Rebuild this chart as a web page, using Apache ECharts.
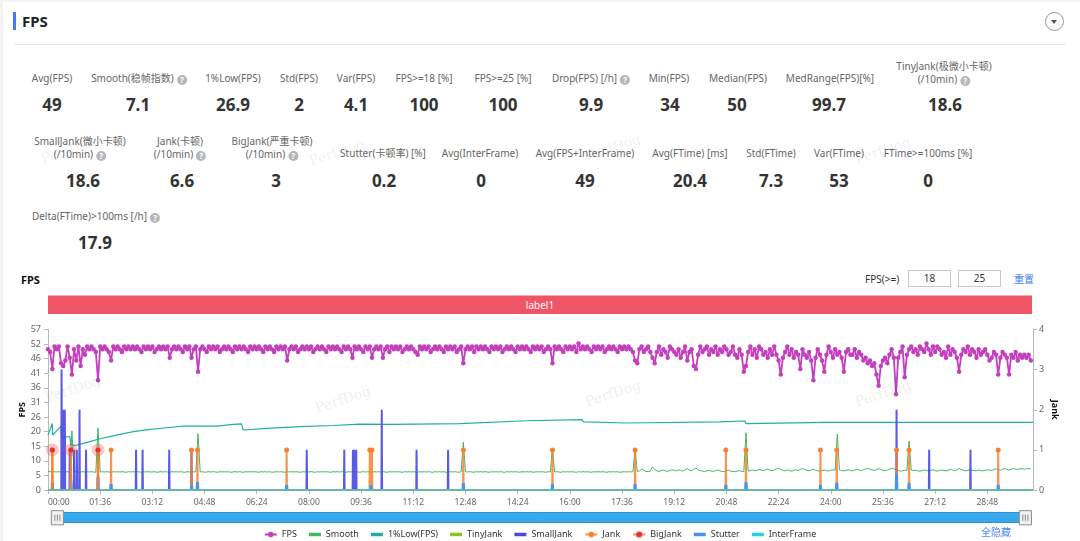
<!DOCTYPE html>
<html>
<head>
<meta charset="utf-8">
<script src="https://cdn.jsdelivr.net/npm/echarts@6/dist/echarts.min.js"></script>
<style>
html, body { margin: 0; padding: 0; }
body {
  width: 1080px; height: 541px; overflow: hidden; position: relative;
  background: #f2f3f5;
  font-family: "Noto Sans", "Noto Sans CJK SC", sans-serif;
}
.card { position: absolute; left: 3px; top: 2px; right: 0; bottom: 0; background: #fff; }
.abs { position: absolute; white-space: nowrap; }
.title-bar { left: 13px; top: 12px; width: 3px; height: 18px; background: #3f7cf6; }
.title { left: 22px; top: 10px; font-size: 15px; font-weight: bold; color: #222; line-height: 22px; }
.divider { left: 14px; top: 44px; width: 1052px; height: 1px; background: #e9e9ec; }
.drop { left: 1045px; top: 12px; width: 17px; height: 17px; border: 1px solid #9a9a9a; border-radius: 50%; }
.drop:after { content: ""; position: absolute; left: 5px; top: 7px; border-left: 3.5px solid transparent; border-right: 3.5px solid transparent; border-top: 4px solid #555; }
.st { position: absolute; transform: translateX(-50%); text-align: center; white-space: nowrap; }
.lb { font-size: 10px; color: #666; line-height: 13px; }
.val { font-size: 17px; font-weight: bold; color: #333; line-height: 20px; }
.q { display: inline-block; width: 10px; height: 10px; border-radius: 50%; background: #b3b6bb; color: #fff; font-size: 8px; line-height: 10px; text-align: center; font-weight: bold; margin-left: 3px; vertical-align: -1px; }
.wm { position: absolute; font-family: "DejaVu Serif", "Liberation Serif", serif; font-size: 14px; color: rgba(0,0,0,0.07); transform: rotate(-18deg); white-space: nowrap; pointer-events: none; z-index: 5; }
.ctitle { left: 21px; top: 272px; font-size: 11px; font-weight: bold; color: #111; line-height: 16px; }
.ftxt { left: 865px; top: 271px; font-size: 10px; color: #333; line-height: 16px; }
.inp { top: 270px; width: 41px; height: 15px; border: 1px solid #c8c8c8; font-size: 10px; color: #333; text-align: center; line-height: 15px; }
.reset { left: 1014px; top: 271px; font-size: 10px; color: #3d7df5; line-height: 16px; }
.scene { left: 48px; top: 295px; width: 984px; height: 19px; background: #ee5667; color: #fff; font-size: 10px; text-align: center; line-height: 19px; border-top: 1px solid #f6a9b1; box-sizing: border-box; }
.hideall { left: 981px; top: 525px; font-size: 10px; color: #4d86f5; line-height: 14px; z-index: 3; }
#chart { position: absolute; left: 0; top: 262px; width: 1080px; height: 279px; }
</style>
</head>
<body>
<div class="card"></div>
<div class="abs title-bar"></div>
<div class="abs title">FPS</div>
<div class="abs divider"></div>
<div class="abs drop"></div>

<!-- row 1 -->
<div class="st lb" style="left:52px;top:71.5px">Avg(FPS)</div>
<div class="st val" style="left:52px;top:95px">49</div>
<div class="st lb" style="left:139px;top:71.5px">Smooth(稳帧指数)<span class="q">?</span></div>
<div class="st val" style="left:138px;top:95px">7.1</div>
<div class="st lb" style="left:233px;top:71.5px">1%Low(FPS)</div>
<div class="st val" style="left:233px;top:95px">26.9</div>
<div class="st lb" style="left:299px;top:71.5px">Std(FPS)</div>
<div class="st val" style="left:299px;top:95px">2</div>
<div class="st lb" style="left:356px;top:71.5px">Var(FPS)</div>
<div class="st val" style="left:356px;top:95px">4.1</div>
<div class="st lb" style="left:424px;top:71.5px">FPS&gt;=18 [%]</div>
<div class="st val" style="left:424px;top:95px">100</div>
<div class="st lb" style="left:503px;top:71.5px">FPS&gt;=25 [%]</div>
<div class="st val" style="left:503px;top:95px">100</div>
<div class="st lb" style="left:591px;top:71.5px">Drop(FPS) [/h]<span class="q">?</span></div>
<div class="st val" style="left:591px;top:95px">9.9</div>
<div class="st lb" style="left:669px;top:71.5px">Min(FPS)</div>
<div class="st val" style="left:670px;top:95px">34</div>
<div class="st lb" style="left:738px;top:71.5px">Median(FPS)</div>
<div class="st val" style="left:737px;top:95px">50</div>
<div class="st lb" style="left:830px;top:71.5px">MedRange(FPS)[%]</div>
<div class="st val" style="left:829px;top:95px">99.7</div>
<div class="st lb" style="left:944px;top:59.5px">TinyJank(极微小卡顿)<br>(/10min)<span class="q">?</span></div>
<div class="st val" style="left:945px;top:95px">18.6</div>

<!-- row 2 -->
<div class="st lb" style="left:80px;top:134.5px">SmallJank(微小卡顿)<br>(/10min)<span class="q">?</span></div>
<div class="st val" style="left:83px;top:171px">18.6</div>
<div class="st lb" style="left:180px;top:134.5px">Jank(卡顿)<br>(/10min)<span class="q">?</span></div>
<div class="st val" style="left:182px;top:171px">6.6</div>
<div class="st lb" style="left:272px;top:134.5px">BigJank(严重卡顿)<br>(/10min)<span class="q">?</span></div>
<div class="st val" style="left:276px;top:171px">3</div>
<div class="st lb" style="left:383px;top:147px">Stutter(卡顿率) [%]</div>
<div class="st val" style="left:384px;top:171px">0.2</div>
<div class="st lb" style="left:480px;top:147px">Avg(InterFrame)</div>
<div class="st val" style="left:481px;top:171px">0</div>
<div class="st lb" style="left:585px;top:147px">Avg(FPS+InterFrame)</div>
<div class="st val" style="left:585px;top:171px">49</div>
<div class="st lb" style="left:690px;top:147px">Avg(FTime) [ms]</div>
<div class="st val" style="left:690px;top:171px">20.4</div>
<div class="st lb" style="left:771px;top:147px">Std(FTime)</div>
<div class="st val" style="left:771px;top:171px">7.3</div>
<div class="st lb" style="left:839px;top:147px">Var(FTime)</div>
<div class="st val" style="left:839px;top:171px">53</div>
<div class="st lb" style="left:928px;top:147px">FTime&gt;=100ms [%]</div>
<div class="st val" style="left:928px;top:171px">0</div>

<!-- row 3 -->
<div class="st lb" style="left:96px;top:209.5px">Delta(FTime)&gt;100ms [/h]<span class="q">?</span></div>
<div class="st val" style="left:95px;top:233px">17.9</div>

<!-- watermarks -->
<div class="wm" style="left:40px;top:142px">PerfDog</div>
<div class="wm" style="left:308px;top:144px">PerfDog</div>
<div class="wm" style="left:584px;top:139px">PerfDog</div>
<div class="wm" style="left:854px;top:142px">PerfDog</div>
<div class="wm" style="left:44px;top:381px">PerfDog</div>
<div class="wm" style="left:314px;top:391px">PerfDog</div>
<div class="wm" style="left:584px;top:385px">PerfDog</div>
<div class="wm" style="left:854px;top:385px">PerfDog</div>

<!-- chart header -->
<div class="abs ctitle">FPS</div>
<div class="abs ftxt">FPS(&gt;=)</div>
<div class="abs inp" style="left:908px">18</div>
<div class="abs inp" style="left:958px">25</div>
<div class="abs reset">重置</div>
<div class="abs scene">label1</div>
<div class="abs hideall">全隐藏</div>

<div id="chart"></div>

<script>
// left axis tick labels (FPS), right axis is Jank count
const leftTickLabels = ['0', '5', '10', '15', '20', '26', '31', '36', '41', '46', '52', '57'];
const leftMax = 57;
const rightMax = 4;
const timeEnd = 1812;   // seconds shown on the x axis
const tickStep = 96;    // 01:36

// FPS, one sample every 4 s
const fpsStep = 4;
const fpsValues = [
  50,49,43,51,50,51,45,44,46,51,47,41,50,46,51,44,50,48,51,50,
  51,50,49,39,51,50,51,50,49,46,51,50,51,50,49,51,50,51,50,51,
  50,51,50,49,51,50,51,50,51,49,50,51,50,51,50,51,47,50,51,50,
  51,50,49,51,50,51,47,50,51,42,50,51,50,49,51,50,51,50,51,49,
  50,51,50,51,50,49,51,50,51,50,51,50,49,51,50,51,50,51,50,49,
  51,50,51,50,49,51,50,51,50,51,46,50,51,50,51,49,50,51,50,51,
  50,51,49,50,51,50,51,50,49,51,50,51,50,51,50,49,51,50,51,50,
  47,51,50,51,50,49,51,50,51,47,50,51,50,51,47,50,51,49,51,50,
  51,50,51,49,50,51,50,51,50,49,48,51,50,51,50,51,49,50,51,50,
  51,50,49,51,50,51,50,51,49,50,51,45,50,51,50,51,49,51,50,51,
  50,51,50,49,51,50,51,50,51,49,50,51,50,51,50,49,51,50,51,50,
  51,50,49,51,50,51,50,51,49,50,51,50,45,51,50,51,50,49,51,50,
  51,50,51,49,52,50,51,50,51,50,49,51,50,51,50,51,49,50,51,50,
  51,50,49,51,50,51,50,51,50,49,
  46,45,50,51,49,50,51,49,47,45,49,51,48,50,49,47,51,50,49,48,
  50,47,49,51,46,49,50,44,43,48,51,49,50,51,48,50,49,51,48,50,
  49,51,50,48,49,51,48,47,50,48,42,44,49,51,48,50,47,51,50,48,
  49,47,50,48,51,48,46,41,47,49,51,48,50,47,49,48,43,50,48,47,
  49,46,39,47,50,48,46,42,48,51,49,47,50,48,49,47,42,49,50,48,
  48,50,47,49,48,46,47,45,46,44,45,41,37,44,46,47,45,48,50,47,
  34,47,49,51,40,48,50,51,49,50,48,51,50,49,52,50,48,51,49,51,
  50,48,49,47,51,48,50,49,47,42,48,50,49,51,48,50,49,47,50,48,
  49,50,48,46,47,49,48,41,47,49,48,47,41,48,47,49,46,48,47,48,
  47,48,46
];

// Smooth index, same 4 s sampling
const smoothValues = [
  6.6,6.5,6.4,6.5,6.4,6.5,6.3,6.5,6.4,6.5,6.4,21,6.4,6.5,6.3,6.4,6.5,6.4,6.5,6.4,
  6.5,6.4,6.3,22,6.4,6.5,6.4,6.5,6.4,6.3,6.5,6.4,6.5,6.4,6.5,6.4,6.3,6.5,6.4,6.5,
  6.4,6.5,6.4,6.3,6.5,6.4,6.5,6.4,6.4,6.5,6.3,6.4,6.5,6.4,6.5,6.4,6.3,6.5,6.4,6.5,
  6.4,6.5,6.4,6.3,6.5,6.4,6.5,6.4,6.5,20,6.4,6.5,6.3,6.4,6.5,6.4,6.5,6.4,6.3,6.5,
  6.4,6.5,6.4,6.5,6.3,6.4,6.5,6.4,6.5,6.4,6.3,6.5,6.4,6.5,6.4,6.5,6.4,6.3,6.5,6.4,
  6.5,6.4,6.5,6.3,6.4,6.5,6.4,6.5,6.4,6.3,6.5,6.4,6.5,6.4,6.5,6.4,6.3,6.5,6.4,6.5,
  6.4,6.5,6.4,6.3,6.5,6.4,6.5,6.4,6.5,6.4,6.3,6.5,6.4,6.5,6.4,6.5,6.4,6.3,6.5,6.4,
  6.5,6.4,6.5,6.3,6.4,6.5,6.4,6.5,6.4,6.3,6.5,6.4,6.5,6.4,6.5,6.4,6.3,6.5,6.4,6.5,
  6.4,6.5,6.4,6.3,6.5,6.4,6.5,6.4,6.5,6.4,6.3,6.5,6.4,6.5,6.4,6.5,6.4,6.3,6.5,6.4,
  6.5,6.4,6.5,6.3,6.4,6.5,6.4,6.5,6.4,6.3,6.5,17,6.5,6.4,6.5,6.4,6.3,6.5,6.4,6.5,
  6.4,6.5,6.4,6.3,6.5,6.4,6.5,6.4,6.5,6.4,6.3,6.5,6.4,6.5,6.4,6.5,6.4,6.3,6.5,6.4,
  6.5,6.4,6.5,6.3,6.4,6.5,6.4,6.5,6.4,6.3,6.5,6.4,14.4,6.4,6.5,6.4,6.3,6.5,6.4,6.5,
  6.4,6.5,6.4,6.3,6.5,6.4,6.5,6.4,6.5,6.4,6.3,6.5,6.4,6.5,6.4,6.5,6.4,6.3,6.5,6.4,
  6.5,6.4,6.5,6.3,6.4,6.5,6.4,6.5,6.4,6.5,
  14.4,6.6,6.8,7.4,7.0,6.6,6.5,6.7,8.2,7.3,6.8,6.6,6.9,7.1,6.8,6.6,6.9,7.2,7.0,6.8,
  7.1,6.9,6.7,7.2,7.6,7.0,6.8,7.4,7.8,7.1,6.9,6.7,6.6,6.8,7.0,6.7,6.6,6.9,7.1,6.8,
  6.6,6.5,6.8,7.0,6.7,6.6,6.5,6.7,6.9,6.6,6.5,20.3,6.7,6.9,7.1,6.8,7.0,7.3,7.1,6.9,
  7.2,7.4,7.0,6.8,7.1,7.5,7.7,7.3,7.0,6.8,7.1,6.9,6.7,7.0,7.2,6.9,7.3,7.6,7.2,7.0,
  6.8,7.1,7.4,7.0,6.8,6.7,6.9,7.1,6.9,6.7,7.0,7.2,7.0,19.9,7.1,6.9,6.8,7.0,7.2,7.0,
  6.8,7.0,7.3,7.1,6.9,7.2,7.5,7.7,7.4,7.1,6.9,7.2,7.6,7.3,7.0,6.8,7.1,7.4,7.8,7.5,
  7.2,6.9,6.7,6.8,7.0,6.9,17.4,7.1,6.9,7.0,6.8,6.7,6.9,7.1,6.9,6.8,7.0,7.2,6.9,6.7,
  6.9,7.1,6.9,6.8,7.0,7.3,7.1,6.9,7.2,7.7,7.3,7.0,6.8,7.0,7.2,7.0,6.8,6.9,7.1,6.9,
  6.8,7.0,7.2,7.0,6.9,7.3,7.5,7.2,7.0,7.4,7.6,7.3,7.1,7.4,7.6,7.4,7.3,7.5,7.6,7.4,
  7.5,7.6,7.5
];

// 1%Low(FPS): [second, fps]
const lowPoints = [
  [0,19.5],[8,23.6],[8.5,19.5],[24,22.7],[25,18.5],[40,19.0],[42,16.0],[50,15.8],
  [60,16.3],[75,17.1],[96,18.2],[126,19.5],[157,20.7],[188,21.5],[218,22.1],[249,22.7],
  [271,22.7],[273,22.2],[310,22.7],[341,23.3],[356,23.5],[359,21.3],[402,21.9],[464,22.5],
  [525,22.9],[574,23.4],[635,23.3],[758,23.6],[881,24.6],[982,25.0],[985,24.2],[1065,23.8],
  [1236,24.2],[1282,24.5],[1284,23.6],[1432,24.0],[1812,24.0]
];

// jank events, seconds
const jankTimes = [8, 42, 92, 116, 264, 275, 439, 592, 596, 764, 928, 1080, 1247, 1284, 1421, 1451, 1561, 1584, 1748];
const bigJankTimes = [8, 42, 92];
const smallJankTimes = [25, 28, 31, 40, 48, 53, 58, 70, 162, 174, 223, 264, 476, 545, 561, 564, 567, 614, 678, 736, 1561, 1621, 1697];
const smallJankValues = [3, 2, 2, 1, 1, 1, 2, 1, 1, 1, 1, 1, 1, 1, 1, 1, 1, 2, 1, 1, 2, 1, 1];
const stutterTimes = [8, 42, 92, 116, 264, 275, 439, 594, 764, 928, 1080, 1247, 1284, 1421, 1451, 1561, 1584, 1748];
const stutterValues = [0.17, 0.23, 0.33, 0.15, 0.12, 0.2, 0.12, 0.12, 0.17, 0.15, 0.15, 0.12, 0.2, 0.12, 0.18, 0.4, 0.17, 0.12];
const tinyJankTimes = [];
const interFrameTimes = [];

function pad(n) { return n < 10 ? '0' + n : '' + n; }

// turn events into narrow spikes; baseline keeps a line along 0
function spikes(times, values, baseline) {
  const out = baseline ? [[0, 0]] : [];
  times.forEach((t, i) => {
    const v = values ? values[i] : 1;
    out.push([t - 0.6, 0], [t, v], [t + 0.6, 0]);
    if (!baseline) out.push([t + 0.7, '-']);
  });
  if (baseline) out.push([timeEnd, 0]);
  return out;
}

const barIcon = 'path://M0,0H12V3.5H0Z';

const chart = echarts.init(document.getElementById('chart'));
chart.setOption({
  animation: false,
  textStyle: { fontFamily: '"Noto Sans", "Noto Sans CJK SC", sans-serif' },
  grid: { left: 48, right: 47, top: 67.5, bottom: 51 },
  legend: {
    top: 263, left: 'center', itemGap: 12, itemWidth: 12, itemHeight: 7,
    textStyle: { fontSize: 9, color: '#333' },
    data: [
      { name: 'FPS' },
      { name: 'Smooth', icon: barIcon },
      { name: '1%Low(FPS)', icon: barIcon },
      { name: 'TinyJank', icon: barIcon },
      { name: 'SmallJank', icon: barIcon },
      { name: 'Jank' },
      { name: 'BigJank' },
      { name: 'Stutter', icon: barIcon },
      { name: 'InterFrame', icon: barIcon }
    ]
  },
  xAxis: {
    type: 'value', min: 0, max: timeEnd, interval: tickStep,
    axisLine: { lineStyle: { color: '#b8b8b8' } },
    axisTick: { lineStyle: { color: '#b8b8b8' }, length: 4 },
    splitLine: { show: false },
    axisLabel: {
      fontSize: 8.5, color: '#666', margin: 8, alignMinLabel: 'left', showMaxLabel: false,
      formatter: v => v % tickStep === 0 ? pad(Math.floor(v / 60)) + ':' + pad(v % 60) : ''
    }
  },
  yAxis: [
    {
      type: 'value', min: 0, max: leftMax, interval: leftMax / 11,
      name: 'FPS', nameLocation: 'middle', nameGap: 21, nameMoveOverlap: false,
      nameTextStyle: { fontSize: 9, fontWeight: 'bold', color: '#111' },
      axisLine: { show: true, lineStyle: { color: '#b8b8b8' } },
      axisTick: { show: true, length: 4, lineStyle: { color: '#b8b8b8' } },
      splitLine: { show: false },
      axisLabel: { fontSize: 9, color: '#666', margin: 7,
        formatter: v => leftTickLabels[Math.round(v / (leftMax / 11))] }
    },
    {
      type: 'value', min: 0, max: rightMax, interval: 1, position: 'right',
      name: 'Jank', nameLocation: 'middle', nameGap: 17, nameRotate: -90, nameMoveOverlap: false,
      nameTextStyle: { fontSize: 9, fontWeight: 'bold', color: '#111' },
      axisLine: { show: true, lineStyle: { color: '#b8b8b8' } },
      axisTick: { show: true, length: 4, lineStyle: { color: '#b8b8b8' } },
      splitLine: { show: false },
      axisLabel: { fontSize: 9, color: '#666', margin: 6 }
    }
  ],
  dataZoom: [{
    type: 'slider', xAxisIndex: 0, start: 0, end: 100,
    left: 55, right: 55, top: 250, height: 10.5,
    showDetail: false, showDataShadow: false, brushSelect: false, moveHandleSize: 0,
    backgroundColor: 'rgba(0,0,0,0)', borderColor: '#2b92d6', fillerColor: '#38a9ec',
    handleIcon: 'path://M0,0H12V14H0Z M3.5,4V10 M6,4V10 M8.5,4V10',
    handleSize: '135%',
    handleStyle: { color: '#f0f0f0', borderColor: '#8c8c8c', borderWidth: 1 },
    dataBackground: { lineStyle: { opacity: 0 }, areaStyle: { opacity: 0 } }
  }],
  series: [
    {
      name: 'FPS', type: 'line', yAxisIndex: 0, z: 4,
      data: fpsValues.map((v, i) => [i * fpsStep, v]),
      symbol: 'circle', symbolSize: 4.5, showAllSymbol: true,
      itemStyle: { color: '#c43fbd' }, lineStyle: { width: 1.8, color: '#c43fbd' }
    },
    {
      name: 'Smooth', type: 'line', yAxisIndex: 0, symbol: 'none',
      data: smoothValues.map((v, i) => [i * fpsStep, v]),
      itemStyle: { color: '#45b560' }, lineStyle: { width: 1, color: '#45b560' }
    },
    {
      name: '1%Low(FPS)', type: 'line', yAxisIndex: 0, symbol: 'none',
      data: lowPoints,
      itemStyle: { color: '#22aea2' }, lineStyle: { width: 1.2, color: '#22aea2' }
    },
    {
      name: 'TinyJank', type: 'line', yAxisIndex: 1, symbol: 'none',
      data: spikes(tinyJankTimes, null, true),
      itemStyle: { color: '#8cc51d' }, lineStyle: { width: 1.5, color: '#8cc51d' }
    },
    {
      name: 'SmallJank', type: 'line', yAxisIndex: 1, symbol: 'none', z: 3,
      data: spikes(smallJankTimes, smallJankValues, false),
      itemStyle: { color: '#4848e2' }, lineStyle: { width: 2, color: '#4848e2', opacity: 0.9 }
    },
    {
      name: 'Jank', type: 'line', yAxisIndex: 1, z: 3,
      data: spikes(jankTimes, null, true),
      symbol: 'circle', showAllSymbol: true,
      symbolSize: v => v[1] > 0 ? 5 : 0,
      itemStyle: { color: '#f7812f' }, lineStyle: { width: 2, color: '#f7812f', opacity: 0.85 }
    },
    {
      name: 'BigJank', type: 'line', yAxisIndex: 1, z: 4,
      data: spikes(bigJankTimes, null, false),
      symbol: 'circle', showAllSymbol: true,
      symbolSize: v => v[1] > 0 ? 5 : 0,
      itemStyle: { color: '#e3302f', borderColor: 'rgba(238,70,70,0.3)', borderWidth: 8 },
      lineStyle: { width: 2, color: '#f7812f', opacity: 0.85 }
    },
    {
      name: 'Stutter', type: 'line', yAxisIndex: 1, symbol: 'none', z: 3,
      data: spikes(stutterTimes, stutterValues, false),
      itemStyle: { color: '#4b92ee' }, lineStyle: { width: 3, color: '#4b92ee' }
    },
    {
      name: 'InterFrame', type: 'line', yAxisIndex: 1, symbol: 'none',
      data: spikes(interFrameTimes, null, true),
      itemStyle: { color: '#25cfe6' }, lineStyle: { width: 1.5, color: '#25cfe6' }
    }
  ]
});
</script>
</body>
</html>
